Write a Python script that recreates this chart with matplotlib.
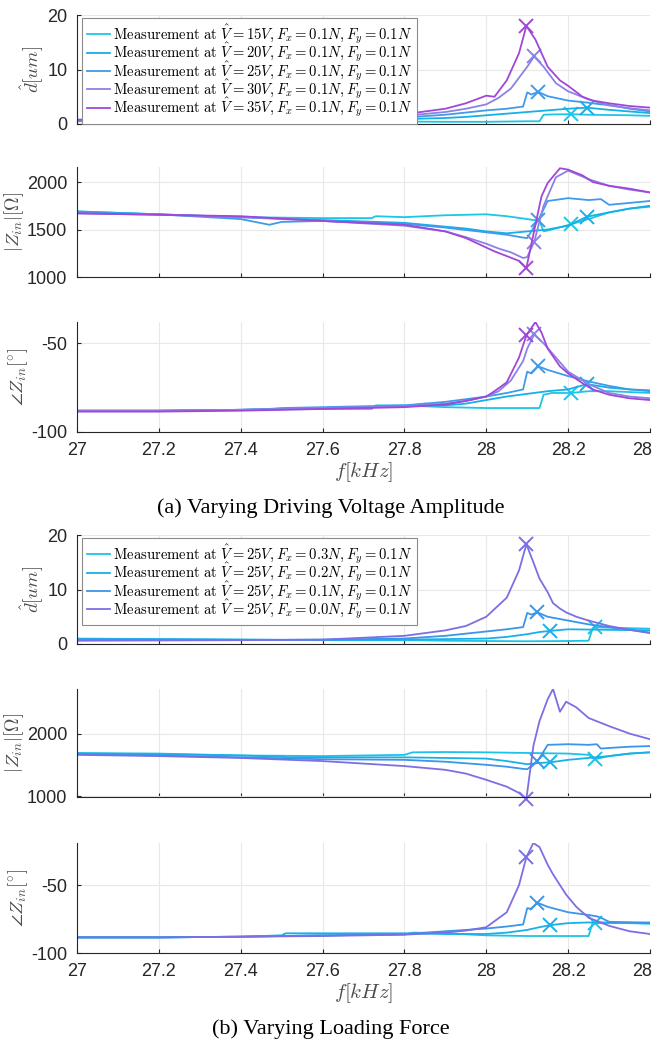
import matplotlib
matplotlib.use("Agg")
import matplotlib.pyplot as plt
import matplotlib.transforms as mtransforms

plt.rcParams["mathtext.fontset"] = "cm"
plt.rcParams["axes.unicode_minus"] = False
plt.rcParams["font.family"] = ["Liberation Sans", "DejaVu Sans"]

# ---- (a) varying driving voltage amplitude ----
f15 = [27.0, 27.2, 27.4, 27.6, 27.72, 27.73, 27.8, 27.9, 28.0, 28.05, 28.1, 28.13, 28.14, 28.16, 28.207, 28.25, 28.3, 28.35, 28.4]
d15 = [0.5, 0.5, 0.5, 0.45, 0.45, 0.45, 0.45, 0.4, 0.4, 0.45, 0.5, 0.5, 1.7, 1.75, 1.8, 1.7, 1.65, 1.6, 1.5]
z15 = [1690, 1660, 1630, 1620, 1620, 1640, 1630, 1650, 1660, 1640, 1610, 1590, 1480, 1500, 1555, 1610, 1680, 1720, 1740]
p15 = [-88, -88, -87.5, -87, -87, -85, -85, -86, -86.5, -86.5, -86.5, -86.5, -79, -78, -78, -77, -77, -77.5, -78]

f20 = [27.0, 27.2, 27.4, 27.6, 27.8, 27.85, 27.9, 27.95, 28.0, 28.05, 28.1, 28.15, 28.2, 28.246, 28.3, 28.35, 28.4]
d20 = [0.7, 0.7, 0.75, 0.8, 0.9, 1.0, 1.1, 1.3, 1.6, 1.9, 2.2, 2.5, 2.8, 3.0, 2.6, 2.3, 2.0]
z20 = [1690, 1660, 1630, 1600, 1570, 1550, 1530, 1510, 1480, 1460, 1480, 1500, 1540, 1635, 1680, 1720, 1750]
p20 = [-88, -88, -87.5, -86.5, -85.5, -84, -85, -84, -82, -80, -78.5, -77, -76, -73, -75, -76, -76.5]

f25 = [27.0, 27.2, 27.4, 27.47, 27.5, 27.6, 27.8, 27.9, 28.0, 28.05, 28.09, 28.1, 28.11, 28.127, 28.15, 28.2, 28.25, 28.28, 28.3, 28.35, 28.4]
d25 = [0.6, 0.6, 0.65, 0.7, 0.7, 0.8, 1.2, 1.7, 2.5, 2.8, 3.2, 5.8, 5.4, 5.9, 5.1, 4.3, 3.9, 3.6, 3.5, 2.8, 2.3]
z25 = [1680, 1660, 1610, 1550, 1580, 1590, 1560, 1520, 1470, 1445, 1415, 1410, 1480, 1600, 1800, 1830, 1810, 1820, 1760, 1780, 1800]
p25 = [-88, -88, -87.5, -87, -86.5, -86, -85, -83, -80, -78, -76, -66, -67, -63, -65, -68.5, -71.5, -73, -74, -76, -77]

f30 = [27.0, 27.2, 27.4, 27.6, 27.8, 27.9, 27.95, 28.0, 28.03, 28.06, 28.09, 28.1, 28.117, 28.14, 28.17, 28.2, 28.25, 28.3, 28.35, 28.4]
d30 = [0.7, 0.75, 0.8, 1.0, 1.5, 2.2, 2.8, 3.6, 4.8, 6.5, 9.5, 10.5, 12.4, 10.5, 7.5, 6.0, 4.5, 3.4, 2.9, 2.5]
z30 = [1670, 1655, 1630, 1590, 1540, 1480, 1420, 1350, 1300, 1260, 1200, 1210, 1370, 1750, 2050, 2120, 2030, 1960, 1920, 1890]
p30 = [-88, -88, -87.5, -86.5, -85.5, -84, -82.5, -80, -77, -71, -60, -53, -45, -50, -58, -66, -73, -78, -80, -81]

f35 = [27.0, 27.2, 27.4, 27.6, 27.8, 27.9, 27.95, 28.0, 28.02, 28.05, 28.08, 28.098, 28.12, 28.135, 28.15, 28.18, 28.2, 28.235, 28.26, 28.3, 28.35, 28.4]
d35 = [0.8, 0.85, 0.95, 1.2, 1.8, 2.8, 3.8, 5.2, 5.0, 8.0, 13.0, 18.0, 15.5, 13.0, 10.5, 8.0, 7.0, 5.0, 4.3, 3.8, 3.3, 3.0]
z35 = [1670, 1655, 1640, 1590, 1550, 1480, 1410, 1310, 1270, 1220, 1170, 1095, 1550, 1850, 1990, 2145, 2130, 2070, 2000, 1960, 1930, 1890]
p35 = [-88.5, -88.5, -88, -87, -86, -84.5, -82.5, -80, -77, -72, -58, -45.5, -38, -44, -53, -63, -67, -72.5, -76, -79, -81, -82]

# ---- (b) varying loading force ----
f03 = [27.0, 27.2, 27.4, 27.6, 27.8, 27.82, 27.9, 28.0, 28.1, 28.2, 28.25, 28.26, 28.265, 28.3, 28.35, 28.4]
d03 = [1.0, 0.9, 0.8, 0.7, 0.7, 0.7, 0.6, 0.55, 0.5, 0.55, 0.6, 2.9, 3.1, 3.0, 2.9, 2.8]
z03 = [1690, 1680, 1650, 1640, 1660, 1700, 1705, 1700, 1690, 1680, 1660, 1610, 1590, 1640, 1680, 1700]
p03 = [-88.5, -88.5, -88, -87, -86.5, -85, -85.5, -87, -87.5, -87.5, -87.5, -77.5, -78, -78, -78, -78.5]

f02 = [27.0, 27.2, 27.4, 27.5, 27.51, 27.6, 27.8, 27.9, 28.0, 28.05, 28.1, 28.13, 28.156, 28.2, 28.25, 28.3, 28.35, 28.4]
d02 = [0.9, 0.85, 0.8, 0.75, 0.75, 0.75, 0.8, 0.9, 1.0, 1.3, 1.8, 2.2, 2.4, 2.7, 2.65, 2.6, 2.55, 2.5]
z02 = [1680, 1670, 1650, 1630, 1620, 1620, 1620, 1610, 1600, 1560, 1510, 1530, 1540, 1580, 1610, 1640, 1680, 1700]
p02 = [-88.5, -88.5, -88, -87, -85.5, -85.5, -85.5, -86, -86, -85, -83, -81, -79.5, -78, -77.5, -77.5, -77.5, -77.5]

f01 = [27.0, 27.2, 27.4, 27.6, 27.8, 27.9, 28.0, 28.05, 28.09, 28.1, 28.11, 28.125, 28.15, 28.2, 28.25, 28.27, 28.28, 28.3, 28.35, 28.4]
d01 = [0.8, 0.8, 0.75, 0.8, 1.0, 1.5, 2.3, 2.7, 3.1, 5.7, 5.4, 5.8, 5.0, 4.3, 3.6, 3.4, 3.3, 3.1, 2.6, 2.1]
z01 = [1670, 1650, 1620, 1590, 1580, 1550, 1500, 1470, 1435, 1430, 1480, 1555, 1820, 1830, 1820, 1830, 1760, 1770, 1790, 1800]
p01 = [-88.5, -88.5, -88, -87, -86, -84, -82, -80.5, -79, -67, -67.5, -63, -66, -70, -72, -73, -74, -77, -77.5, -78]

f00 = [27.0, 27.2, 27.4, 27.6, 27.8, 27.9, 27.95, 28.0, 28.05, 28.08, 28.098, 28.115, 28.13, 28.15, 28.163, 28.18, 28.195, 28.22, 28.25, 28.3, 28.35, 28.4]
d00 = [0.6, 0.65, 0.7, 0.8, 1.5, 2.5, 3.3, 5.0, 8.5, 13.5, 18.3, 15.0, 12.0, 9.5, 7.5, 6.5, 5.8, 5.0, 4.3, 3.3, 2.6, 2.0]
z00 = [1660, 1640, 1610, 1560, 1480, 1420, 1360, 1260, 1150, 1050, 955, 1800, 2200, 2550, 2714, 2350, 2510, 2420, 2250, 2120, 2000, 1910]
p00 = [-88.5, -88.5, -88, -87.5, -86.5, -85, -83.5, -81, -70, -50, -29.4, -19, -22, -35, -42, -50, -57, -66, -74, -80, -84, -86]

volt_labels = ["15V", "20V", "25V", "30V", "35V"]
force_labels = ["0.3N", "0.2N", "0.1N", "0.0N"]
volt_peak = [28.207, 28.246, 28.127, 28.117, 28.098]
force_peak = [28.265, 28.156, 28.125, 28.098]
xtick_vals = [27, 27.2, 27.4, 27.6, 27.8, 28, 28.2, 28.4]
xtick_text = ["27", "27.2", "27.4", "27.6", "27.8", "28", "28.2", "28"]

volt_colors = ["#1cc6e6", "#16afe8", "#3f9be9", "#8a82e4", "#a246da"]
force_colors = ["#1cc3e6", "#19b0e8", "#3b95e8", "#7b6fe4"]

group_a = [(f15, d15, z15, p15), (f20, d20, z20, p20), (f25, d25, z25, p25),
           (f30, d30, z30, p30), (f35, d35, z35, p35)]
group_b = [(f03, d03, z03, p03), (f02, d02, z02, p02), (f01, d01, z01, p01),
           (f00, d00, z00, p00)]

W, H = 654, 1044
fig = plt.figure(figsize=(W / 100, H / 100), dpi=100)

grid_col = "#e8e8e8"
spine_col = "#262626"
label_col = "#4d4d4d"


def make_ax(top, bottom):
    ax = fig.add_axes([77 / W, 1 - bottom / H, 573 / W, (bottom - top) / H])
    ax.set_xlim(27, 28.4)
    ax.set_xticks(xtick_vals)
    ax.grid(True, color=grid_col, linewidth=0.8)
    ax.set_axisbelow(True)
    for s in ["top", "right"]:
        ax.spines[s].set_visible(False)
    for s in ["left", "bottom"]:
        ax.spines[s].set_color(spine_col)
        ax.spines[s].set_linewidth(0.8)
    ax.tick_params(direction="in", length=3, colors=spine_col, labelsize=13,
                   width=0.8)
    ax.tick_params(axis="y", pad=7)
    ax.tick_params(axis="x", labelbottom=False)
    return ax


def draw(axes, series, colors, peaks, labels, legend_fmt):
    ax_d, ax_z, ax_p = axes
    for (f, d, z, p), c, pk, lab in zip(series, colors, peaks, labels):
        i = f.index(pk)
        for ax, y in ((ax_d, d), (ax_z, z), (ax_p, p)):
            ax.plot(f, y, color=c, lw=1.3, label=legend_fmt % lab if ax is ax_d else None)
            ax.plot(f[i], y[i], "x", color=c, ms=10, mew=1.4, clip_on=False)
    leg = ax_d.legend(loc="upper left", bbox_to_anchor=(0.009, 0.975),
                      borderaxespad=0, fontsize=10.6, handlelength=1.6,
                      handletextpad=0.2, labelspacing=-0.36, borderpad=0.3,
                      fancybox=False, framealpha=1, edgecolor="#8c8c8c")
    leg.get_frame().set_linewidth(0.8)


def style(axes, ylims, yticks):
    names = [r"$\hat{d}[um]$", r"$|Z_{in}|[\Omega]$", r"$\angle Z_{in}[^{\circ}]$"]
    for ax, yl, yt, nm in zip(axes, ylims, yticks, names):
        ax.set_ylim(*yl)
        ax.set_yticks(yt)
        ax.set_ylabel(nm, fontsize=13.5, color=label_col, labelpad=1)
    bot = axes[2]
    bot.tick_params(axis="x", labelbottom=True, pad=7)
    bot.set_xticklabels(xtick_text)
    last = bot.get_xticklabels()[-1]
    last.set_horizontalalignment("right")
    last.set_transform(last.get_transform() +
                       mtransforms.ScaledTranslation(2 / 100, 0, fig.dpi_scale_trans))
    bot.set_xlabel(r"$f[kHz]$", fontsize=15, color=label_col, labelpad=1)


axes_a = [make_ax(15, 124), make_ax(167, 277), make_ax(322, 432)]
draw(axes_a, group_a, volt_colors, volt_peak, volt_labels,
     r"$\mathrm{Measurement\ at\ }\hat{V}=%s, F_x=0.1N, F_y=0.1N$")
style(axes_a, [(0, 20), (1000, 2158), (-100, -38)],
      [[0, 10, 20], [1000, 1500, 2000], [-100, -50]])

axes_b = [make_ax(535, 644), make_ax(689, 797), make_ax(843, 953)]
draw(axes_b, group_b, force_colors, force_peak, force_labels,
     r"$\mathrm{Measurement\ at\ }\hat{V}=25V, F_x=%s, F_y=0.1N$")
style(axes_b, [(0, 20), (985, 2714), (-100, -19)],
      [[0, 10, 20], [1000, 2000], [-100, -50]])

fig.text(331 / W, 1 - 508 / H, "(a) Varying Driving Voltage Amplitude",
         ha="center", va="center", fontsize=16, family="Liberation Serif")
fig.text(331 / W, 1 - 1029 / H, "(b) Varying Loading Force",
         ha="center", va="center", fontsize=16, family="Liberation Serif")

fig.savefig("out.png", dpi=100)
